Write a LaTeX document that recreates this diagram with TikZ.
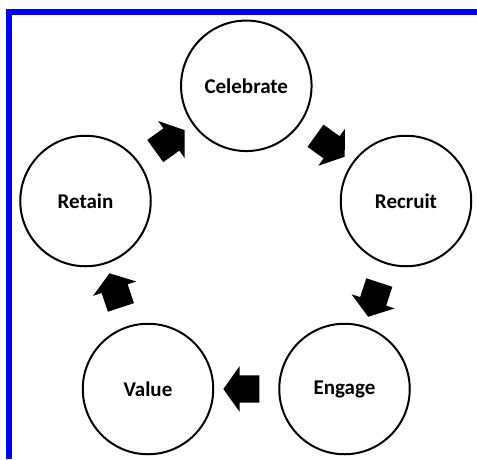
\documentclass[tikz,border=0pt]{standalone}
\usepackage{fontspec}
\setmainfont{Carlito}
\usetikzlibrary{shapes.arrows}
\definecolor{frameblue}{RGB}{0,0,255}
\tikzset{
  stage/.style={circle, draw=black, line width=2pt, minimum size=130.5pt,
    inner sep=0pt, font=\fontsize{21pt}{24pt}\selectfont\bfseries},
  blockarrow/.style={single arrow, fill=black, draw=none, inner sep=0pt,
    minimum height=36pt, single arrow head extend=9pt,
    single arrow tip angle=109, sloped, allow upside down, anchor=center},
  frameline/.style={draw=frameblue, line width=6pt, line join=miter}
}
% the shaft is as wide as this strut is tall
\newcommand{\shaftstrut}{\rule[-13.5pt]{0pt}{27pt}}
\begin{document}
\begin{tikzpicture}[x=1pt, y=-1pt]
  \useasboundingbox (0,0) rectangle (477,459);
  % frame along the top and left edges
  \coordinate (fbl) at (9,459);
  \coordinate (ftl) at (9,12);
  \coordinate (ftr) at (477,12);
  \draw[frameline] (fbl) -- (ftl) -- (ftr);

  % the five stages of the cycle
  \node[stage] (cel) at (246.3,85.8) {Celebrate};
  \node[stage] (rec) at (406,201)   {Recruit};
  \node[stage] (eng) at (344.5,389) {Engage};
  \node[stage] (val) at (148,389)   {Value};
  \node[stage] (ret) at (85.5,201)  {Retain};

  % block arrows between consecutive stages
  \path (cel) -- node[blockarrow] (a1) {\shaftstrut} (rec);
  \path (rec) -- node[blockarrow] (a2) {\shaftstrut} (eng);
  \path (eng) -- node[blockarrow] (a3) {\shaftstrut} (val);
  \path (val) -- node[blockarrow] (a4) {\shaftstrut} (ret);
  \path (ret) -- node[blockarrow] (a5) {\shaftstrut} (cel);
\end{tikzpicture}
\end{document}
